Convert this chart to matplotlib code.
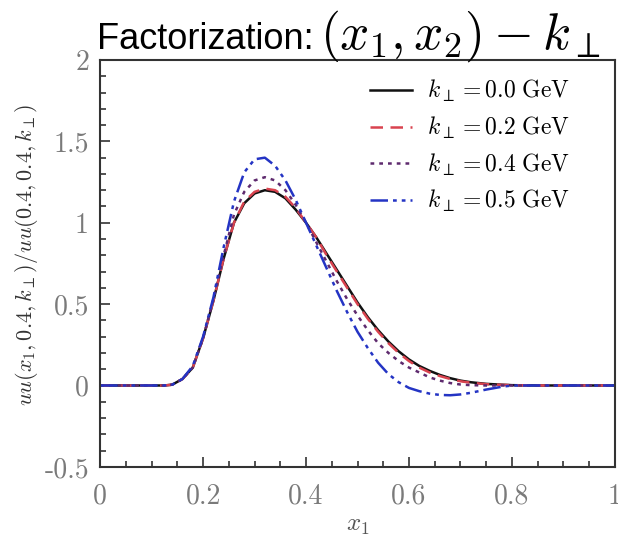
import numpy as np
import matplotlib
matplotlib.use('Agg')
import matplotlib.pyplot as plt
from matplotlib.ticker import MultipleLocator, FuncFormatter

plt.rcParams['mathtext.fontset'] = 'cm'
plt.rcParams['axes.unicode_minus'] = False

# ── data ──────────────────────────────────────────────────────────────────────
x1 = [0.0, 0.05, 0.10, 0.125, 0.14, 0.16, 0.18, 0.20, 0.22, 0.24, 0.26, 0.28,
      0.30, 0.32, 0.34, 0.36, 0.38, 0.40, 0.42, 0.44, 0.46, 0.48, 0.50, 0.52,
      0.54, 0.56, 0.58, 0.60, 0.62, 0.64, 0.66, 0.68, 0.70, 0.72, 0.75, 0.78,
      0.80, 0.85, 0.90, 0.95, 1.0]

k00 = [0, 0, 0, 0, 0.005, 0.04, 0.11, 0.29, 0.52, 0.78, 1.00, 1.12,
       1.18, 1.20, 1.19, 1.15, 1.08, 1.00, 0.91, 0.81, 0.71, 0.61, 0.51, 0.42,
       0.34, 0.27, 0.21, 0.16, 0.12, 0.09, 0.065, 0.045, 0.03, 0.02, 0.01, 0.005,
       0.002, 0, 0, 0, 0]
k02 = [0, 0, 0, 0, 0.005, 0.04, 0.11, 0.29, 0.52, 0.78, 1.00, 1.13,
       1.19, 1.21, 1.20, 1.16, 1.09, 1.00, 0.91, 0.80, 0.70, 0.60, 0.50, 0.41,
       0.33, 0.26, 0.20, 0.15, 0.11, 0.08, 0.058, 0.04, 0.026, 0.017, 0.008, 0.004,
       0.002, 0, 0, 0, 0]
k04 = [0, 0, 0, 0, 0.005, 0.04, 0.11, 0.29, 0.53, 0.80, 1.05, 1.19,
       1.26, 1.28, 1.26, 1.20, 1.11, 1.00, 0.88, 0.76, 0.64, 0.53, 0.43, 0.34,
       0.26, 0.20, 0.15, 0.11, 0.08, 0.05, 0.03, 0.015, 0.006, 0.002, 0, 0,
       0, 0, 0, 0, 0]
k05 = [0, 0, 0, 0, 0.005, 0.04, 0.12, 0.30, 0.54, 0.85, 1.13, 1.31,
       1.39, 1.40, 1.35, 1.26, 1.14, 1.00, 0.86, 0.72, 0.58, 0.45, 0.33, 0.23,
       0.14, 0.07, 0.02, -0.015, -0.035, -0.05, -0.058, -0.06, -0.055, -0.045, -0.025, -0.008,
       0.0, 0, 0, 0, 0]

kperp = ['0.0', '0.2', '0.4', '0.5']
series = [k00, k02, k04, k05]
colors = ['#111111', '#d9434f', '#5e2a6e', '#2434c4']
styles = ['-', (0, (5, 3)), (0, (1.5, 2)), (0, (7, 2, 1.5, 2, 1.5, 2))]

# ── figure ────────────────────────────────────────────────────────────────────
fig = plt.figure(figsize=(6.18, 5.36), dpi=100, facecolor='white')
ax = fig.add_axes([0.162, 0.129, 0.833, 0.759])

for y, c, ls, k in zip(series, colors, styles, kperp):
    ax.plot(x1, y, color=c, ls=ls, lw=1.8,
            label=r'$k_\perp = %s\ \mathrm{GeV}$' % k)

ax.set_xlim(0, 1)
ax.set_ylim(-0.5, 2)
ax.xaxis.set_major_locator(MultipleLocator(0.2))
ax.xaxis.set_minor_locator(MultipleLocator(0.05))
ax.yaxis.set_major_locator(MultipleLocator(0.5))
ax.yaxis.set_minor_locator(MultipleLocator(0.1))
fmt = FuncFormatter(lambda v, p: ('%g' % round(v, 2)))
ax.xaxis.set_major_formatter(fmt)
ax.yaxis.set_major_formatter(fmt)
ax.tick_params(which='both', direction='in', top=False, right=False,
               color='#222222', width=1.1)
ax.tick_params(which='major', length=7, labelsize=20, labelcolor='#7a7a7a')
ax.tick_params(which='minor', length=4)
ax.tick_params(axis='y', which='major', pad=8)
ax.tick_params(axis='x', which='major', pad=12)
for lab in ax.get_xticklabels() + ax.get_yticklabels():
    lab.set_fontfamily('cmr10')
for sp in ax.spines.values():
    sp.set_linewidth(1.5)
    sp.set_color('#333333')

ax.set_xlabel(r'$x_1$', fontsize=18, color='#555555', labelpad=2)
ax.set_ylabel(r'$uu(x_1, 0.4, k_\perp)/uu(0.4, 0.4, k_\perp)$',
              fontsize=16, color='#333333', labelpad=4)
ax.yaxis.set_label_coords(-0.117, 0.52)

leg = ax.legend(loc='upper left', bbox_to_anchor=(0.524, 0.955),
                frameon=False, fontsize=17, borderpad=0, borderaxespad=0,
                handlelength=1.8, handletextpad=0.6, labelspacing=0.45)

fig.text(0.157, 0.909, 'Factorization: ', fontsize=26,
         fontfamily='Liberation Sans', va='baseline', ha='left')
fig.text(0.518, 0.909, r'$(x_1, x_2) - k_\perp$', fontsize=37,
         va='baseline', ha='left')

fig.savefig('out.png', dpi=100, facecolor='white')
